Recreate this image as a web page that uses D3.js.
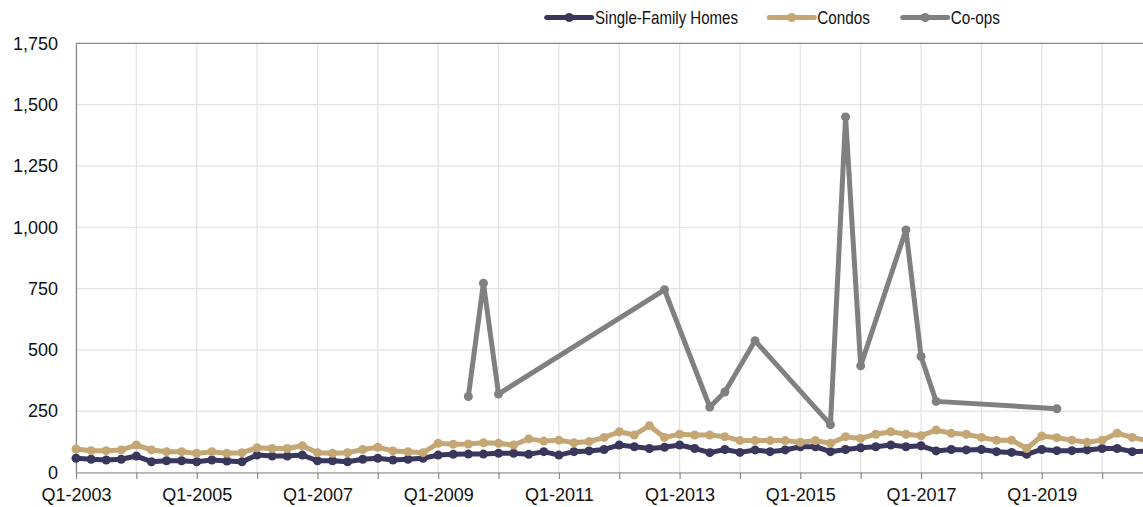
<!DOCTYPE html>
<html>
<head>
<meta charset="utf-8">
<script src="https://cdn.jsdelivr.net/npm/d3@7"></script>
<style>
  html, body { margin: 0; padding: 0; background: #fff; overflow: hidden; }
  svg { display: block; font-family: "Liberation Sans", Arial, Helvetica, sans-serif; }
</style>
</head>
<body>
<svg id="chart" width="1143" height="507"></svg>
<script>
// ---- Data ----
const years = [2003,2004,2005,2006,2007,2008,2009,2010,2011,2012,2013,2014,2015,2016,2017,2018,2019,2020];
const categories = [];
years.forEach(yr => { for (let q = 1; q <= 4; q++) categories.push("Q" + q + "-" + yr); });

const singleFamily = [
  58, 54, 51, 54, 67, 44, 48, 48, 44, 51, 47, 44, 71, 67, 67, 71, 48, 48,
  44, 54, 58, 51, 54, 58, 71, 74, 75, 75, 78, 78, 74, 85, 71, 85, 88, 94,
  112, 105, 98, 103, 112, 98, 81, 94, 82, 92, 85, 92, 105, 105, 85, 94, 101,
  105, 112, 105, 109, 88, 94, 92, 94, 85, 82, 74, 94, 89, 89, 92, 98, 98, 85, 88
];
const condos = [
  96, 89, 89, 92, 112, 92, 85, 85, 78, 85, 78, 81, 101, 98, 98, 109, 81, 78,
  81, 94, 103, 88, 85, 81, 119, 115, 116, 121, 119, 112, 137, 128, 132, 121, 126, 143,
  166, 153, 191, 143, 156, 153, 153, 146, 130, 130, 130, 130, 123, 130, 119, 146, 139,
  156, 166, 156, 150, 173, 160, 156, 143, 132, 132, 98, 149, 142, 132, 123, 132, 160, 143, 130
];
const coops = [
  null, null, null, null, null, null, null, null, null, null, null, null, null, null, null, null, null, null,
  null, null, null, null, null, null, null, null, 310, 772, 320, null, null, null, null, null, null, null,
  null, null, null, 745, null, null, 267, 328, null, 537, null, null, null, null, 195, 1450, 435,
  null, null, 989, 473, 290, null, null, null, null, null, null, null, 260, null, null, null, null, null, null
];

const xTickLabels = ["Q1-2003","Q1-2005","Q1-2007","Q1-2009","Q1-2011","Q1-2013","Q1-2015","Q1-2017","Q1-2019"];
const yTicks = [0, 250, 500, 750, 1000, 1250, 1500, 1750];

const seriesNames = ["Single-Family Homes", "Condos", "Co-ops"];
const seriesColors = ["#3a375c", "#c4a774", "#808080"];

// ---- Layout ----
const svg = d3.select("#chart");
const plotLeft = 76, plotTop = 43.3, plotBottom = 472.5;
const step = 15.09;
const plotRight = plotLeft + step * 72;

const x = d3.scaleLinear().domain([0, 71]).range([plotLeft, plotLeft + step * 71]);
const y = d3.scaleLinear().domain([0, 1750]).range([plotBottom, plotTop]);

// gridlines
const g = svg.append("g");
g.selectAll("line.hg").data(yTicks).enter().append("line")
  .attr("x1", plotLeft).attr("x2", plotRight)
  .attr("y1", d => y(d)).attr("y2", d => y(d))
  .attr("stroke", "#e2e2e2").attr("stroke-width", 1.2);
const yearIdx = d3.range(0, 72, 4);
g.selectAll("line.vg").data(yearIdx).enter().append("line")
  .attr("x1", d => x(d)).attr("x2", d => x(d))
  .attr("y1", plotTop).attr("y2", plotBottom)
  .attr("stroke", "#e2e2e2").attr("stroke-width", 1.2);

// top border
svg.append("line").attr("x1", plotLeft).attr("x2", plotRight).attr("y1", plotTop).attr("y2", plotTop)
  .attr("stroke", "#8a8a8a").attr("stroke-width", 1.2);

// y axis
const yAxis = d3.axisLeft(y).tickValues(yTicks).tickSize(0).tickPadding(18)
  .tickFormat(d3.format(","));
const ya = svg.append("g").attr("transform", `translate(${plotLeft},0)`).call(yAxis);
ya.select(".domain").attr("stroke", "#8a8a8a").attr("stroke-width", 1.2);
ya.selectAll("text").attr("font-size", 18).attr("fill", "#111")
  .attr("font-family", "Liberation Sans, Arial, sans-serif");

// x axis
const xAxis = d3.axisBottom(x).tickValues(yearIdx).tickSize(6.5).tickPadding(9)
  .tickFormat(i => xTickLabels.includes(categories[i]) ? categories[i] : "");
const xa = svg.append("g").attr("transform", `translate(0,${plotBottom})`).call(xAxis);
xa.select(".domain").attr("d", `M${plotLeft},0.5H${plotRight}`).attr("stroke", "#8a8a8a").attr("stroke-width", 1.2);
xa.selectAll(".tick line").attr("stroke", "#8a8a8a").attr("stroke-width", 1.2);
xa.selectAll("text").attr("font-size", 18).attr("fill", "#111")
  .attr("font-family", "Liberation Sans, Arial, sans-serif");

// series
const allSeries = [singleFamily, condos, coops];
allSeries.forEach((vals, si) => {
  const pts = vals.map((v, i) => ({ i, v })).filter(d => d.v !== null);
  const line = d3.line().x(d => x(d.i)).y(d => y(d.v));
  svg.append("path").datum(pts)
    .attr("fill", "none").attr("stroke", seriesColors[si])
    .attr("stroke-width", 5).attr("stroke-linejoin", "round")
    .attr("d", line);
  svg.append("g").selectAll("circle").data(pts).enter().append("circle")
    .attr("cx", d => x(d.i)).attr("cy", d => y(d.v))
    .attr("r", 4.5).attr("fill", seriesColors[si]);
});

// legend
const legendItems = [
  { name: seriesNames[0], color: seriesColors[0], x0: 546.7, w: 45, tx: 595, tl: 143 },
  { name: seriesNames[1], color: seriesColors[1], x0: 769.3, w: 45, tx: 817.3, tl: 52.7 },
  { name: seriesNames[2], color: seriesColors[2], x0: 902.7, w: 45, tx: 950.7, tl: 49.3 }
];
const ly = 17.5;
const lg = svg.append("g").selectAll("g").data(legendItems).enter().append("g");
lg.append("line").attr("x1", d => d.x0).attr("x2", d => d.x0 + d.w)
  .attr("y1", ly).attr("y2", ly).attr("stroke", d => d.color)
  .attr("stroke-width", 5).attr("stroke-linecap", "round");
lg.append("circle").attr("cx", d => d.x0 + d.w / 2).attr("cy", ly).attr("r", 4.5)
  .attr("fill", d => d.color);
lg.append("text").attr("x", d => d.tx).attr("y", ly).attr("dy", "0.35em")
  .attr("font-size", 18.5).attr("fill", "#111")
  .attr("textLength", d => d.tl).attr("lengthAdjust", "spacingAndGlyphs")
  .text(d => d.name);
</script>
</body>
</html>
